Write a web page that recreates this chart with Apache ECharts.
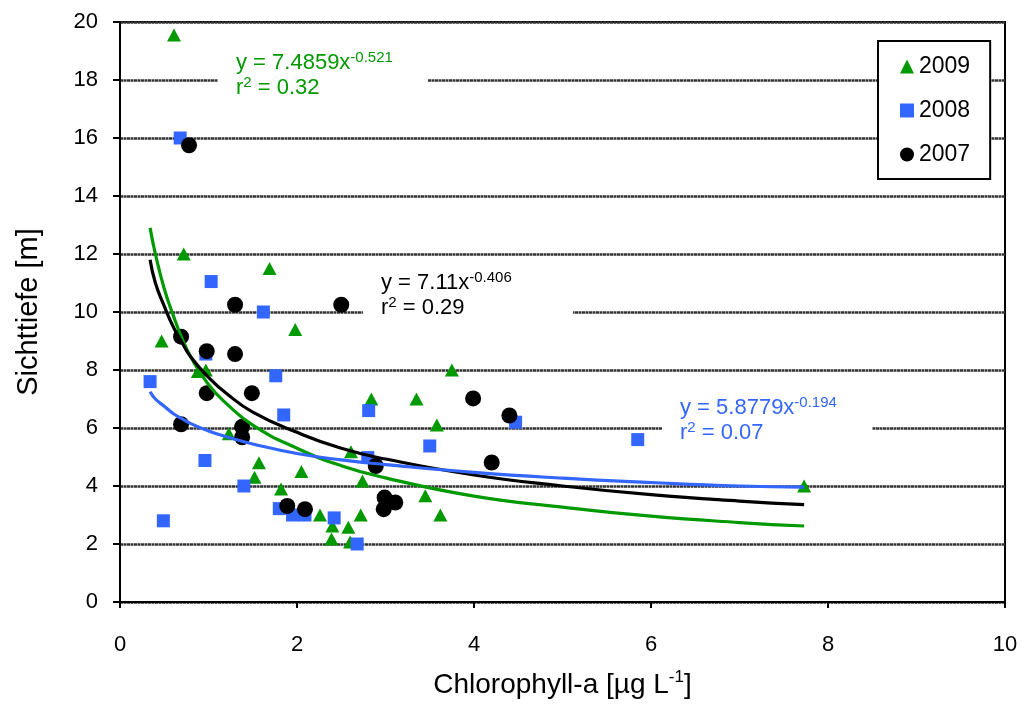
<!DOCTYPE html>
<html><head><meta charset="utf-8">
<script src="https://cdn.jsdelivr.net/npm/echarts@6/dist/echarts.min.js"></script>
<style>html,body{margin:0;padding:0;background:#fff}#c{width:1025px;height:704px}</style>
</head><body><div id="c"></div>
<script>
// ---- data ----
const xTicks = [0, 2, 4, 6, 8, 10];
const yTicks = [0, 2, 4, 6, 8, 10, 12, 14, 16, 18, 20];
const years = ['2009', '2008', '2007'];

const chl2009 = [0.61, 0.72, 1.69, 0.47, 1.98, 0.88, 0.97, 1.23, 1.57, 1.52, 2.05, 1.82, 2.26, 2.40, 2.39, 2.58, 2.60, 2.72, 2.61, 2.74, 2.84, 3.75, 3.35, 3.58, 3.45, 3.62, 7.73];
const sd2009  = [19.55, 12.0, 11.5, 9.0, 9.4, 7.95, 8.0, 5.8, 4.8, 4.3, 4.5, 3.9, 3.0, 2.62, 2.17, 2.58, 2.07, 3.0, 5.18, 4.17, 7.0, 8.0, 7.0, 6.1, 3.66, 3.0, 4.0];

const chl2008 = [0.68, 1.03, 1.62, 0.34, 1.76, 0.97, 1.85, 2.81, 0.96, 1.40, 0.49, 1.80, 1.95, 2.09, 2.42, 2.68, 2.80, 3.50, 4.47, 5.85];
const sd2008  = [16.0, 11.05, 10.0, 7.6, 7.8, 8.55, 6.45, 6.6, 4.88, 4.0, 2.8, 3.22, 3.0, 3.0, 2.9, 2.0, 4.98, 5.38, 6.2, 5.6];

const chl2007 = [0.78, 1.30, 2.50, 0.69, 0.98, 1.30, 0.98, 1.49, 0.69, 1.38, 1.38, 1.89, 2.09, 2.89, 2.99, 3.11, 2.98, 3.99, 4.40, 4.20];
const sd2007  = [15.75, 10.25, 10.25, 9.15, 8.65, 8.55, 7.2, 7.2, 6.13, 6.04, 5.68, 3.31, 3.2, 4.69, 3.6, 3.43, 3.2, 7.02, 6.43, 4.81];

// trend lines as drawn in the reference (sampled along the curves)
const trendX    = [0.34, 0.4, 0.5, 0.6, 0.7, 0.8, 1.0, 1.2, 1.5, 2.0, 2.5, 3.0, 4.0, 5.0, 6.0, 7.0, 7.73];
const trend2009 = [12.9, 12.0, 10.8, 9.9, 9.1, 8.45, 7.5, 6.85, 6.1, 5.3, 4.7, 4.28, 3.65, 3.27, 2.96, 2.74, 2.62];
const trend2008 = [7.25, 7.0, 6.75, 6.5, 6.32, 6.15, 5.9, 5.7, 5.45, 5.12, 4.9, 4.74, 4.47, 4.27, 4.12, 4.0, 3.96];
const trend2007 = [11.8, 11.0, 10.2, 9.5, 8.95, 8.45, 7.75, 7.2, 6.55, 5.85, 5.3, 4.93, 4.38, 4.0, 3.7, 3.48, 3.36];

const eq2009 = ['7.4859', '-0.521', '0.32'];
const eq2008 = ['5.8779', '-0.194', '0.07'];
const eq2007 = ['7.11', '-0.406', '0.29'];

// ---- styling ----
const GREEN = '#009900', BLUE = '#3366FF', BLACK = '#000000';
const FONT = 'Liberation Sans, Arial, sans-serif';
const zip = (a, b) => a.map((v, i) => [v, b[i]]);

function eqLabel(x, y, boxX, color, eq) {
  return {
    type: 'group', z: 10,
    children: [
      { type: 'rect', shape: { x: boxX, y: y - 6, width: 210, height: 60 }, style: { fill: '#fff' }, z: 10 },
      { type: 'text', x: x, y: y, z: 11,
        style: {
          text: '{n|y = ' + eq[0] + 'x}{s|' + eq[1] + '}\n{n|r}{s|2}{n| = ' + eq[2] + '}',
          fill: color, font: '22px ' + FONT,
          rich: {
            n: { fontSize: 22, lineHeight: 25, fontFamily: FONT, fill: color },
            s: { fontSize: 15, lineHeight: 14, verticalAlign: 'top', fontFamily: FONT, fill: color }
          }
        }
      }
    ]
  };
}

const chart = echarts.init(document.getElementById('c'), null, { renderer: 'canvas' });
chart.setOption({
  animation: false,
  backgroundColor: '#fff',
  textStyle: { fontFamily: FONT },
  grid: { left: 120, right: 20, top: 22, bottom: 99, show: true, borderColor: '#000', borderWidth: 2, backgroundColor: 'rgba(0,0,0,0)' },
  xAxis: {
    type: 'value', min: xTicks[0], max: xTicks[xTicks.length - 1], interval: xTicks[1] - xTicks[0],
    name: '{n|Chlorophyll-a [µg L}{s|-1}{n|]}', nameLocation: 'middle', nameGap: 67,
    nameTextStyle: { rich: {
      n: { fontSize: 28, fontFamily: FONT, color: '#000', lineHeight: 32 },
      s: { fontSize: 17, fontFamily: FONT, color: '#000', lineHeight: 17, verticalAlign: 'top' } } },
    axisLine: { show: true, onZero: false, lineStyle: { color: '#000', width: 2 } },
    axisTick: { show: true, inside: false, length: 6, lineStyle: { color: '#000', width: 2 } },
    axisLabel: { fontSize: 22, color: '#000', margin: 32, fontFamily: FONT },
    splitLine: { show: false }
  },
  yAxis: {
    type: 'value', min: yTicks[0], max: yTicks[yTicks.length - 1], interval: yTicks[1] - yTicks[0],
    name: 'Sichttiefe [m]', nameLocation: 'middle', nameGap: 77, nameRotate: 90,
    nameTextStyle: { fontSize: 29, color: '#000', fontFamily: FONT },
    axisLine: { show: true, onZero: false, lineStyle: { color: '#000', width: 2 } },
    axisTick: { show: true, inside: false, length: 7, lineStyle: { color: '#000', width: 2 } },
    axisLabel: { fontSize: 22, color: '#000', margin: 22, fontFamily: FONT },
    splitLine: { show: true, lineStyle: { color: '#333', width: 2.5, type: [3, 0.5] } }
  },
  legend: {
    orient: 'vertical', left: 878, top: 41,
    padding: [14, 20, 13, 22], itemGap: 21, itemWidth: 14, itemHeight: 14, itemTextGap: 4,
    borderColor: '#000', borderWidth: 2, backgroundColor: '#fff',
    textStyle: { fontSize: 23, color: '#000', fontFamily: FONT },
    data: years.map(y => ({ name: y }))
  },
  graphic: [
    eqLabel(236, 50, 218, GREEN, eq2009),
    eqLabel(381, 270, 363, BLACK, eq2007),
    eqLabel(680, 395, 662, BLUE, eq2008)
  ],
  series: [
    { name: years[0], type: 'scatter', symbol: 'triangle', symbolSize: [14, 13], data: zip(chl2009, sd2009), itemStyle: { color: GREEN, opacity: 1 }, z: 3 },
    { name: years[1], type: 'scatter', symbol: 'rect', symbolSize: 13, data: zip(chl2008, sd2008), itemStyle: { color: BLUE, opacity: 1 }, z: 3 },
    { name: years[2], type: 'scatter', symbol: 'circle', symbolSize: 16, data: zip(chl2007, sd2007), itemStyle: { color: BLACK, opacity: 1 }, z: 4 },
    { name: 'trend2009', type: 'line', data: zip(trendX, trend2009), smooth: true, showSymbol: false, symbol: 'none', lineStyle: { color: GREEN, width: 3.2 }, z: 6 },
    { name: 'trend2007', type: 'line', data: zip(trendX, trend2007), smooth: true, showSymbol: false, symbol: 'none', lineStyle: { color: BLACK, width: 3.2 }, z: 6 },
    { name: 'trend2008', type: 'line', data: zip(trendX, trend2008), smooth: true, showSymbol: false, symbol: 'none', lineStyle: { color: BLUE, width: 3.2 }, z: 6 }
  ]
});
</script>
</body></html>
